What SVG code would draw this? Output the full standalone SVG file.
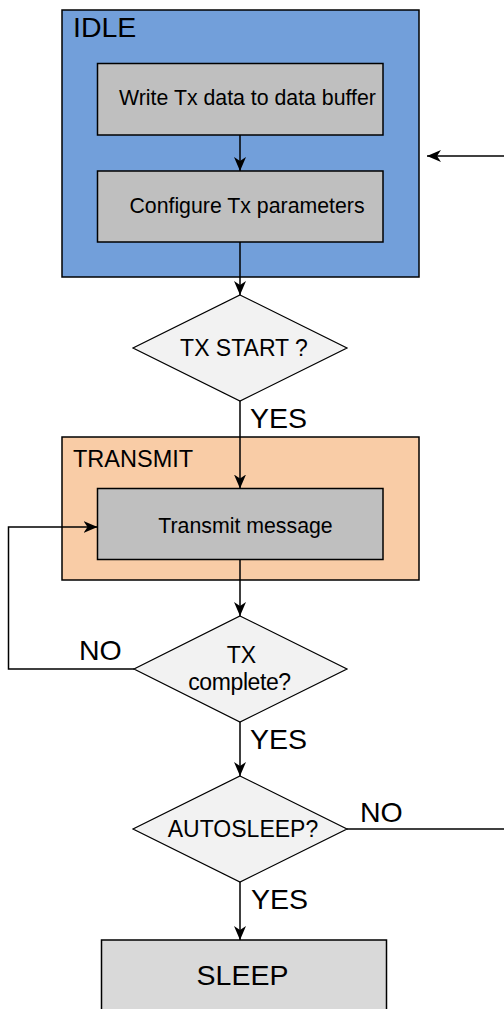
<svg xmlns="http://www.w3.org/2000/svg" width="504" height="1009" viewBox="0 0 504 1009">
<defs>
<marker id="ah" viewBox="0 0 14 12" refX="14" refY="6" markerWidth="14" markerHeight="12" markerUnits="userSpaceOnUse" orient="auto">
<path d="M0,0 L14,6 L0,12 L4,6 Z" fill="#000"/>
</marker>
</defs>
<style>
text{font-family:"Liberation Sans",Arial,sans-serif;fill:#000}
.st{stroke:#000;stroke-width:1.5}
.box{fill:#bfbfbf;stroke:#000;stroke-width:1.5}
.dia{fill:#f2f2f2;stroke:#000;stroke-width:1.2}
.c{fill:none;stroke:#000;stroke-width:1.5}
.lbl{font-size:28.5px}
.in{font-size:21.3px}
.dt{font-size:23px}
</style>
<rect width="504" height="1009" fill="#fff"/>
<g id="idle">
<rect x="62" y="10" width="357" height="267" fill="#729fda" class="st"/>
<text x="73" y="37" font-size="28.5">IDLE</text>
</g>
<g id="write">
<rect x="97.5" y="63.5" width="285.5" height="71.5" class="box"/>
<text x="247.5" y="105" class="in" text-anchor="middle">Write Tx data to data buffer</text>
</g>
<g id="config">
<rect x="97.5" y="171" width="285.5" height="71" class="box"/>
<text x="247" y="213" class="in" text-anchor="middle">Configure Tx parameters</text>
</g>
<g id="txstart">
<polygon points="240,295 347,348 240,401 133,348" class="dia"/>
<text x="244" y="356" class="dt" text-anchor="middle">TX START ?</text>
</g>
<g id="transmit">
<rect x="62" y="437" width="357" height="143" fill="#f9cca6" class="st"/>
<text x="73" y="467" font-size="23.5">TRANSMIT</text>
</g>
<g id="txmsg">
<rect x="97.5" y="488.5" width="285.5" height="71" class="box"/>
<text x="245.5" y="533" class="in" text-anchor="middle">Transmit message</text>
</g>
<g id="txcomplete">
<polygon points="240,616 347,669 240,722 134,669" class="dia"/>
<text x="241.5" y="663" class="dt" text-anchor="middle">TX</text>
<text x="239.5" y="690" class="dt" text-anchor="middle" letter-spacing="-0.4">complete?</text>
</g>
<g id="autosleep">
<polygon points="240,776 347,829 240,882 133,829" class="dia"/>
<text x="243" y="837" class="dt" text-anchor="middle">AUTOSLEEP?</text>
</g>
<g id="sleep">
<rect x="101.5" y="940" width="285" height="80" fill="#d9d9d9" class="st"/>
<text x="242.5" y="985" font-size="28.5" text-anchor="middle">SLEEP</text>
</g>
<g id="connectors">
<line x1="240" y1="135" x2="240" y2="171" class="c" marker-end="url(#ah)"/>
<line x1="240" y1="242" x2="240" y2="295" class="c" marker-end="url(#ah)"/>
<line x1="240" y1="401" x2="240" y2="488.5" class="c" marker-end="url(#ah)"/>
<line x1="240" y1="559.5" x2="240" y2="616" class="c" marker-end="url(#ah)"/>
<polyline points="134,669 8.5,669 8.5,527 97.5,527" class="c" marker-end="url(#ah)"/>
<line x1="240" y1="722" x2="240" y2="776" class="c" marker-end="url(#ah)"/>
<line x1="240" y1="882" x2="240" y2="940" class="c" marker-end="url(#ah)"/>
<line x1="347" y1="829" x2="504" y2="829" class="c"/>
<line x1="504" y1="156" x2="427" y2="156" class="c" marker-end="url(#ah)"/>
<text x="250" y="428" class="lbl">YES</text>
<text x="79" y="660" class="lbl">NO</text>
<text x="250" y="749" class="lbl">YES</text>
<text x="360" y="822" class="lbl">NO</text>
<text x="251" y="909" class="lbl">YES</text>
</g>
</svg>
